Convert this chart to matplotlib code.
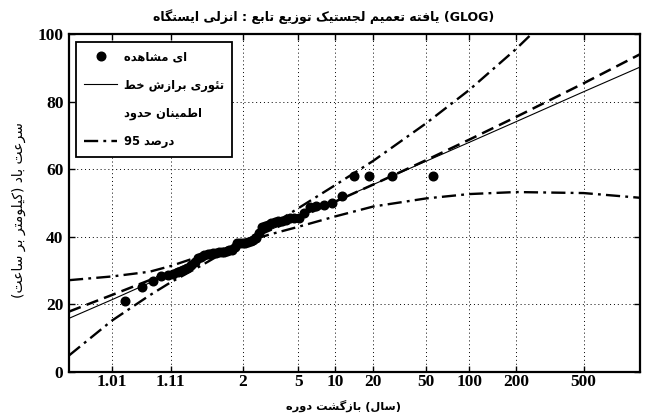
import numpy as np
import matplotlib
matplotlib.use('Agg')
import matplotlib.pyplot as plt
from matplotlib.lines import Line2D
from matplotlib.ticker import FixedLocator, FixedFormatter, NullLocator

# ---------------- data ----------------
SHAPE_K = 0.12   # GLOG probability-paper shape used for the x axis

tick_periods = [1.01, 1.11, 2, 5, 10, 20, 50, 100, 200, 500]
tick_labels = ['1.01', '1.11', '2', '5', '10', '20', '50', '100', '200', '500']
y_ticks = [0, 20, 40, 60, 80, 100]

observed = [21.0, 25.2, 26.9, 28.2, 28.5, 29.0, 29.5, 30.0, 30.6, 31.5,
            32.5, 33.6, 34.0, 34.5, 35.0, 35.0, 35.1, 35.2, 35.3, 35.5,
            35.5, 35.8, 36.0, 36.0, 37.0, 38.0, 38.0, 38.0, 38.2, 38.5,
            38.8, 39.0, 39.5, 41.0, 42.9, 43.2, 43.5, 44.0, 44.3, 44.5,
            44.7, 45.0, 45.4, 45.4, 45.4, 47.0, 48.9, 49.0, 49.5, 50.0,
            52.0, 58.0, 58.0, 58.0, 58.0]

curve_periods = [1.001, 1.01, 1.05, 1.11, 1.3, 2, 3, 5, 10, 20, 50, 100, 200, 500, 1000]
fit_line = [15.8, 21.3, 26.3, 29.1, 33.0, 38.4, 41.9, 45.7, 50.5, 55.4, 62.3, 67.9, 74.0, 82.9, 90.2]
dashed_line = [17.8, 22.7, 27.1, 29.6, 33.3, 38.4, 41.8, 45.5, 50.4, 55.4, 62.6, 68.7, 75.4, 85.4, 94.0]
ci_a = [4.8, 15.1, 22.6, 26.5, 31.4, 38.5, 43.1, 48.4, 55.3, 62.4, 73.5, 83.4, 95.5, 114.9, 132.2]
ci_b = [27.1, 28.2, 29.6, 31.3, 34.3, 38.1, 40.6, 42.9, 46.0, 48.9, 51.3, 52.6, 53.2, 52.9, 51.5]

title_text = 'ایستگاه انزلی : تابع توزیع لجستیک تعمیم یافته (GLOG)'
xlabel_text = 'دوره بازگشت (سال)'
ylabel_text = 'سرعت باد (کیلومتر بر ساعت)'
leg_obs = 'مشاهده ای'
leg_fit = 'خط برازش تئوری'
leg_ci1 = 'حدود اطمینان'
leg_ci2 = '95 درصد'

# ---------------- Persian shaping helpers ----------------
FORMS = {
    'ا': ('\uFE8D', '\uFE8E', None, None),
    'ب': ('\uFE8F', '\uFE90', '\uFE91', '\uFE92'),
    'پ': ('\uFB56', '\uFB57', '\uFB58', '\uFB59'),
    'ت': ('\uFE95', '\uFE96', '\uFE97', '\uFE98'),
    'ث': ('\uFE99', '\uFE9A', '\uFE9B', '\uFE9C'),
    'ج': ('\uFE9D', '\uFE9E', '\uFE9F', '\uFEA0'),
    'چ': ('\uFB7A', '\uFB7B', '\uFB7C', '\uFB7D'),
    'ح': ('\uFEA1', '\uFEA2', '\uFEA3', '\uFEA4'),
    'خ': ('\uFEA5', '\uFEA6', '\uFEA7', '\uFEA8'),
    'د': ('\uFEA9', '\uFEAA', None, None),
    'ذ': ('\uFEAB', '\uFEAC', None, None),
    'ر': ('\uFEAD', '\uFEAE', None, None),
    'ز': ('\uFEAF', '\uFEB0', None, None),
    'ژ': ('\uFB8A', '\uFB8B', None, None),
    'س': ('\uFEB1', '\uFEB2', '\uFEB3', '\uFEB4'),
    'ش': ('\uFEB5', '\uFEB6', '\uFEB7', '\uFEB8'),
    'ص': ('\uFEB9', '\uFEBA', '\uFEBB', '\uFEBC'),
    'ض': ('\uFEBD', '\uFEBE', '\uFEBF', '\uFEC0'),
    'ط': ('\uFEC1', '\uFEC2', '\uFEC3', '\uFEC4'),
    'ظ': ('\uFEC5', '\uFEC6', '\uFEC7', '\uFEC8'),
    'ع': ('\uFEC9', '\uFECA', '\uFECB', '\uFECC'),
    'غ': ('\uFECD', '\uFECE', '\uFECF', '\uFED0'),
    'ف': ('\uFED1', '\uFED2', '\uFED3', '\uFED4'),
    'ق': ('\uFED5', '\uFED6', '\uFED7', '\uFED8'),
    'ک': ('\uFB8E', '\uFB8F', '\uFB90', '\uFB91'),
    'گ': ('\uFB92', '\uFB93', '\uFB94', '\uFB95'),
    'ل': ('\uFEDD', '\uFEDE', '\uFEDF', '\uFEE0'),
    'م': ('\uFEE1', '\uFEE2', '\uFEE3', '\uFEE4'),
    'ن': ('\uFEE5', '\uFEE6', '\uFEE7', '\uFEE8'),
    'و': ('\uFEED', '\uFEEE', None, None),
    'ه': ('\uFEE9', '\uFEEA', '\uFEEB', '\uFEEC'),
    'ی': ('\uFBFC', '\uFBFD', '\uFBFE', '\uFBFF'),
    'ئ': ('\uFE89', '\uFE8A', '\uFE8B', '\uFE8C'),
}
MIRROR = {'(': ')', ')': '('}


def shape(s):
    out = []
    for i, c in enumerate(s):
        if c not in FORMS:
            out.append(c)
            continue
        iso, fin, ini, med = FORMS[c]
        prev = s[i - 1] if i > 0 else None
        nxt = s[i + 1] if i < len(s) - 1 else None
        pj = prev in FORMS and FORMS[prev][2] is not None
        nj = (nxt in FORMS) and ini is not None
        if pj and nj:
            out.append(med)
        elif pj:
            out.append(fin)
        elif nj:
            out.append(ini)
        else:
            out.append(iso)
    return ''.join(out)


def has_arabic(s):
    return any(c in FORMS for c in s)


def rev_word(w):
    if not has_arabic(w):
        return w
    return ''.join(MIRROR.get(c, c) for c in reversed(shape(w)))


def ltr_words(text):
    # words kept in left-to-right order (as in the reference), letters shaped RTL
    return ' '.join(rev_word(w) for w in text.split(' '))


def rtl_text(text):
    return ' '.join(rev_word(w) for w in reversed(text.split(' ')))


# ---------------- scale ----------------
def fwd(T):
    T = np.asarray(T, dtype=float)
    base = np.clip(T - 1.0, 1e-9, None)
    return (base ** SHAPE_K - 1.0) / SHAPE_K


def inv(z):
    z = np.asarray(z, dtype=float)
    b = np.clip(1.0 + SHAPE_K * z, 1e-9, None)
    return b ** (1.0 / SHAPE_K) + 1.0


n_obs = len(observed)
obs_T = [(n_obs + 1) / (n_obs + 1 - i) for i in range(1, n_obs + 1)]

# ---------------- figure ----------------
fig = plt.figure(figsize=(6.48, 4.16), dpi=100)
ax = fig.add_axes([69 / 648, 1 - 371.7 / 416, 571 / 648, 337.7 / 416])
ax.set_xscale('function', functions=(fwd, inv))
ax.set_xlim(1.001, 1000)
ax.set_ylim(0, 100)

dd = (6, 2.2, 1.2, 2.2)
ax.plot(curve_periods, ci_a, color='black', lw=1.7, dashes=dd, zorder=3)
ax.plot(curve_periods, ci_b, color='black', lw=1.7, dashes=dd, zorder=3)
ax.plot(curve_periods, dashed_line, color='black', lw=1.8, dashes=(5, 2.5), zorder=3)
ax.plot(curve_periods, fit_line, color='black', lw=0.8, zorder=4)
ax.plot(obs_T, observed, 'o', color='black', ms=6.2, zorder=5)

ax.xaxis.set_major_locator(FixedLocator(tick_periods))
ax.xaxis.set_major_formatter(FixedFormatter(tick_labels))
ax.xaxis.set_minor_locator(NullLocator())
ax.set_yticks(y_ticks)
ax.yaxis.set_minor_locator(NullLocator())

for lab in ax.get_xticklabels() + ax.get_yticklabels():
    lab.set_fontfamily('Liberation Serif')
    lab.set_fontweight('bold')
    lab.set_fontsize(12.5)

ax.tick_params(direction='in', length=4, width=1, top=True, right=True)
ax.tick_params(axis='x', pad=2)
ax.tick_params(axis='y', pad=4)
ax.grid(True, color='black', linestyle=(0, (1, 3)), linewidth=0.7)
for sp in ax.spines.values():
    sp.set_linewidth(1.6)

persian = ['DejaVu Sans']
fig.text(0.5, 1 - 17 / 416, ltr_words(title_text), ha='center', va='center',
         family=persian, fontsize=9, fontweight='bold')
fig.text(344 / 648, 1 - 406 / 416, ltr_words(xlabel_text), ha='center', va='center',
         family=persian, fontsize=8.2, fontweight='bold')
fig.text(19 / 648, 1 - 210 / 416, rtl_text(ylabel_text), ha='center', va='center',
         rotation=90, family=persian, fontsize=10)

handles = [
    Line2D([], [], marker='o', ls='none', color='black', ms=6.2),
    Line2D([], [], color='black', lw=0.8),
    Line2D([], [], ls='none'),
    Line2D([], [], color='black', lw=1.7, dashes=dd),
]
labels = [ltr_words(leg_obs), ltr_words(leg_fit), ltr_words(leg_ci1), ltr_words(leg_ci2)]
leg = ax.legend(handles, labels, loc='upper left', bbox_to_anchor=(0.012, 0.977),
                borderaxespad=0, fancybox=False, framealpha=1, edgecolor='black',
                prop={'family': persian, 'size': 8.3, 'weight': 'bold'},
                handlelength=2.8, labelspacing=1.3, borderpad=0.75, handletextpad=0.6)
leg.get_frame().set_linewidth(1.3)

fig.savefig('out.png', dpi=100)
